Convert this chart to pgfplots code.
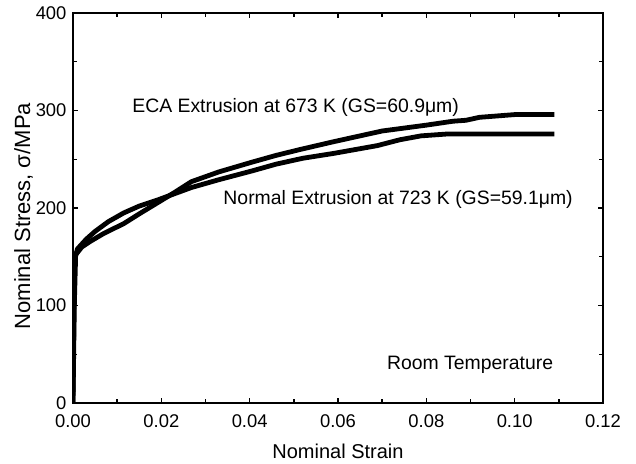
\documentclass[border=0pt]{standalone}
\usepackage{fontspec}
\setmainfont{Liberation Sans}
\usepackage{pgfplots}
\pgfplotsset{compat=1.18}

\begin{document}
\begin{tikzpicture}
\fontsize{9.2}{11}\selectfont
% page frame: 636x463 px at 0.5pt per px, axis box from px (73,13) to (603,403)
\path[use as bounding box] (-36.5pt,-30pt) rectangle (281.5pt,201.5pt);
\begin{axis}[
    scale only axis,
    width=265pt, height=195pt,
    xmin=0, xmax=0.12, ymin=0, ymax=400,
    xtick={0,0.02,...,0.12},
    ytick={0,100,...,400},
    minor tick num=1,
    tick align=inside,
    major tick length=2.6pt,
    minor tick length=1.8pt,
    axis line style={line width=1pt},
    every tick/.style={black, line width=0.7pt},
    scaled x ticks=false,
    xticklabel style={yshift=-2.5pt, /pgf/number format/.cd, fixed, fixed zerofill, precision=2},
    /pgf/number format/assume math mode=true,
    xlabel={Nominal Strain},
    ylabel={Nominal Stress, σ/MPa},
    x label style={at={(axis description cs:0.5,-0.123)}, anchor=center, font=\fontsize{10}{12}\selectfont},
    y label style={at={(axis description cs:-0.0934,0.479)}, anchor=center, font=\fontsize{11}{13}\selectfont},
]
% ECA Extrusion at 673 K
\addplot[black, line width=2.4pt, line join=round] coordinates {
(0,0) (0.0003,100) (0.0006,152) (0.002,160) (0.004,166) (0.007,174)
(0.0115,184) (0.015,194) (0.019,205) (0.023,216) (0.0268,227) (0.033,237)
(0.0405,247) (0.046,254) (0.0514,260) (0.059,268) (0.070,279) (0.080,285)
(0.086,289) (0.089,290) (0.092,293) (0.1005,296) (0.109,296)
};
% Normal Extrusion at 723 K
\addplot[black, line width=2.4pt, line join=round] coordinates {
(0,0) (0.0002,100) (0.0004,148) (0.001,158) (0.003,168) (0.005,176)
(0.008,186) (0.0115,195) (0.015,202) (0.019,208) (0.0268,221) (0.033,229)
(0.0405,238) (0.046,245) (0.052,251) (0.059,256) (0.0689,264) (0.074,270)
(0.0788,274) (0.085,276) (0.096,276) (0.109,276)
};
\node[font=\fontsize{9.7}{11}\selectfont] at (axis cs:0.0504,303.6) {ECA Extrusion at 673 K (GS=60.9μm)};
\node[font=\fontsize{9.7}{11}\selectfont] at (axis cs:0.0736,209) {Normal Extrusion at 723 K (GS=59.1μm)};
\node[font=\fontsize{9.7}{11}\selectfont] at (axis cs:0.0899,39) {Room Temperature};
\end{axis}
\end{tikzpicture}
\end{document}
